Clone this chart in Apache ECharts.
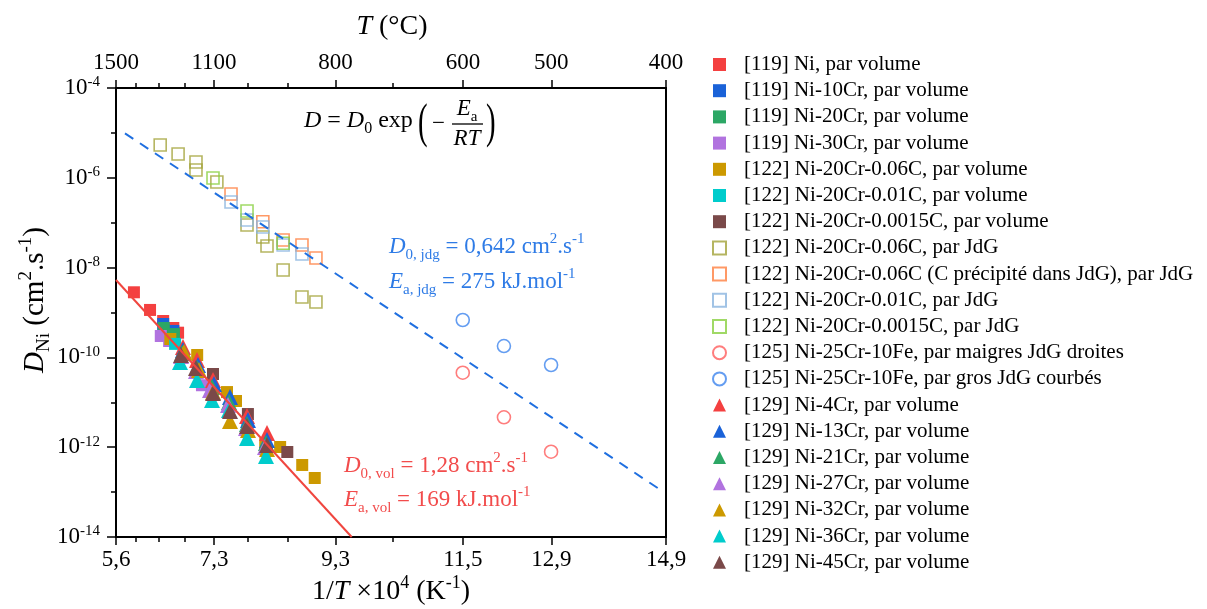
<!DOCTYPE html>
<html><head><meta charset="utf-8">
<script src="https://cdn.jsdelivr.net/npm/echarts@6/dist/echarts.min.js"></script>
<style>html,body{margin:0;padding:0;background:#fff}#c{width:1207px;height:609px}</style>
</head><body><div id="c"></div>
<script>
// ---- tick definitions ----
const tempMajorC = [1500, 1100, 800, 600, 500, 400];
const tempMinorC = [1400, 1300, 1200, 1000, 900, 700];
const invTLabels = ['5,6', '7,3', '9,3', '11,5', '12,9', '14,9'];
const yMin = 1e-14, yMax = 1e-4;

// ---- series names ----
const seriesNames = [
  '[119] Ni, par volume',
  '[119] Ni-10Cr, par volume',
  '[119] Ni-20Cr, par volume',
  '[119] Ni-30Cr, par volume',
  '[122] Ni-20Cr-0.06C, par volume',
  '[122] Ni-20Cr-0.01C, par volume',
  '[122] Ni-20Cr-0.0015C, par volume',
  '[122] Ni-20Cr-0.06C, par JdG',
  '[122] Ni-20Cr-0.06C (C précipité dans JdG), par JdG',
  '[122] Ni-20Cr-0.01C, par JdG',
  '[122] Ni-20Cr-0.0015C, par JdG',
  '[125] Ni-25Cr-10Fe, par maigres JdG droites',
  '[125] Ni-25Cr-10Fe, par gros JdG courbés',
  '[129] Ni-4Cr, par volume',
  '[129] Ni-13Cr, par volume',
  '[129] Ni-21Cr, par volume',
  '[129] Ni-27Cr, par volume',
  '[129] Ni-32Cr, par volume',
  '[129] Ni-36Cr, par volume',
  '[129] Ni-45Cr, par volume'
];

// ---- data: [1/T x 1e4 (K^-1), D (cm^2/s)] ----
const ni119 = [[5.94, 2.82e-9], [6.21, 1.14e-9], [6.43, 6.47e-10], [6.60, 4.52e-10], [6.68, 3.55e-10]];
const ni10cr119 = [[6.43, 5.55e-10], [6.60, 3.89e-10]];
const ni20cr119 = [[6.44, 4.52e-10], [6.61, 3.31e-10]];
const ni30cr119 = [[6.39, 3.0e-10], [6.53, 2.32e-10], [7.08, 2.4e-11]];
const c006vol122 = [[6.55, 2.57e-10], [7.00, 1.13e-10], [7.50, 1.69e-11], [7.65, 1.07e-11], [8.14, 1.17e-12], [8.39, 1.01e-12], [8.76, 4.02e-13], [8.97, 2.06e-13]];
const c001vol122 = [[6.63, 2.0e-10], [7.26, 1.9e-11], [7.84, 2.8e-12]];
const c0015vol122 = [[7.265, 4.27e-11], [7.85, 5.48e-12], [8.51, 7.82e-13]];
const c006jdg122 = [[6.38, 5.38e-6], [6.68, 3.39e-6], [6.98, 2.25e-6], [6.98, 1.49e-6], [7.33, 8.05e-7], [7.835, 8.89e-8], [8.10, 4.81e-8], [8.17, 3.03e-8], [8.44, 8.85e-9], [8.756, 2.21e-9], [8.99, 1.71e-9]];
const c006precJdg122 = [[7.567, 4.36e-7], [8.10, 1.05e-7], [8.44, 4.12e-8], [8.756, 3.18e-8], [8.99, 1.64e-8]];
const c001jdg122 = [[7.567, 2.89e-7], [7.835, 1.15e-7], [8.10, 8.02e-8], [8.44, 3.18e-8], [8.756, 2.01e-8]];
const c0015jdg122 = [[7.265, 9.91e-7], [7.835, 1.82e-7], [8.44, 3.48e-8]];
const fe125Thin = [[11.45, 4.56e-11], [12.14, 4.63e-12], [12.93, 7.94e-13]];
const fe125Thick = [[11.45, 6.81e-10], [12.14, 1.79e-10], [12.93, 6.78e-11]];
const ni4cr129 = [[6.762, 1.71e-10], [6.997, 8.75e-11], [7.265, 3.14e-11], [7.835, 4.95e-12], [8.17, 2.07e-12]];
const ni13cr129 = [[6.762, 1.46e-10], [7.014, 6.78e-11], [7.282, 2.56e-11], [7.55, 1.31e-11], [7.851, 4.04e-12], [8.17, 1.45e-12]];
const ni21cr129 = [[6.746, 1.25e-10], [6.997, 5.81e-11], [7.248, 2.19e-11], [7.533, 1.02e-11], [7.835, 3.29e-12], [8.153, 1.24e-12]];
const ni27cr129 = [[6.729, 1.07e-10], [6.98, 4.98e-11], [7.215, 1.88e-11], [7.516, 8.71e-12], [7.818, 2.68e-12], [8.136, 1.01e-12]];
const ni32cr129 = [[6.779, 1.32e-10], [7.03, 5.24e-11], [7.265, 1.69e-11], [7.55, 3.84e-12], [7.851, 2.42e-12], [8.17, 9.12e-13]];
const ni36cr129 = [[6.712, 7.91e-11], [6.997, 3.14e-11], [7.248, 1.12e-11], [7.533, 6.75e-12], [7.835, 1.60e-12], [8.153, 6.37e-13]];
const ni45cr129 = [[6.729, 1.13e-10], [6.98, 5.81e-11], [7.265, 1.61e-11], [7.55, 6.40e-12], [7.835, 2.96e-12], [8.17, 1.12e-12]];

// ---- fitted lines (end points) ----
const volFitLine = [[5.6397, 5.3e-9], [9.589, 1e-14]];
const jdgFitLine = [[5.79, 9.8e-6], [14.75, 1.15e-13]];

// ---- chart ----
const FONT = 'Liberation Serif';
const xOf = c => 1e4 / (c + 273.15);
const majorX = tempMajorC.map(xOf);
const minorX = tempMinorC.map(xOf);
const xMin = majorX[0], xMax = majorX[majorX.length - 1];
function nearestIdx(v) { let b = 0; majorX.forEach((m, i) => { if (Math.abs(m - v) < Math.abs(majorX[b] - v)) b = i; }); return b; }

const dataSets = [ni119, ni10cr119, ni20cr119, ni30cr119, c006vol122, c001vol122, c0015vol122,
  c006jdg122, c006precJdg122, c001jdg122, c0015jdg122, fe125Thin, fe125Thick,
  ni4cr129, ni13cr129, ni21cr129, ni27cr129, ni32cr129, ni36cr129, ni45cr129];
const styles = [
  ['rect', '#f44040', true], ['rect', '#1a62d8', true], ['rect', '#2ca765', true], ['rect', '#b173df', true],
  ['rect', '#cc9900', true], ['rect', '#00cccc', true], ['rect', '#7a4949', true],
  ['rect', '#a3a33a', false], ['rect', '#ff8040', false], ['rect', '#8ab4df', false], ['rect', '#88d040', false],
  ['circle', '#ff5c5c', false], ['circle', '#3d85ee', false],
  ['triangle', '#f44040', true], ['triangle', '#1a62d8', true], ['triangle', '#2ca765', true], ['triangle', '#b173df', true],
  ['triangle', '#cc9900', true], ['triangle', '#00cccc', true], ['triangle', '#7a4949', true]
];

const series = seriesNames.map((name, i) => {
  const [sym, col, filled] = styles[i];
  const size = sym === 'triangle' ? 16 : (sym === 'circle' ? 13 : 12);
  return {
    name, type: 'scatter', xAxisIndex: 0, yAxisIndex: 0,
    data: dataSets[i], symbol: sym, symbolSize: size,
    itemStyle: filled ? { color: col, opacity: 1 } : { color: 'rgba(255,255,255,0)', borderColor: col, borderWidth: 1.6 },
    emphasis: { disabled: true }, z: 2 + i * 0.01
  };
});
series.push({ type: 'line', data: volFitLine, xAxisIndex: 0, yAxisIndex: 0, symbol: 'none', silent: true,
  lineStyle: { color: '#f0463f', width: 2 }, z: 5 });
series.push({ type: 'line', data: jdgFitLine, xAxisIndex: 0, yAxisIndex: 0, symbol: 'none', silent: true,
  lineStyle: { color: '#1f6fe0', width: 2, type: [10, 8] }, z: 5 });

const tickLine = { color: '#000', width: 1.5 };
const xBase = { type: 'value', min: xMin, max: xMax, splitLine: { show: false }, axisLine: { show: false } };
const lblStyle = { fontFamily: FONT, fontSize: 23, color: '#000' };

const txtRich = (sz) => ({
  i: { fontStyle: 'italic', fontFamily: FONT, fontSize: sz, lineHeight: sz + 8 },
  sub: { fontFamily: FONT, fontSize: Math.round(sz * 0.65), verticalAlign: 'bottom', lineHeight: Math.round(sz * 0.65) },
  sup: { fontFamily: FONT, fontSize: Math.round(sz * 0.65), verticalAlign: 'top', lineHeight: Math.round(sz * 0.65) }
});
function T(x, y, text, sz, color, extra) {
  return Object.assign({ type: 'text', x, y, style: { text, fill: color, fontFamily: FONT, fontSize: sz, lineHeight: sz + 8,
    align: 'left', verticalAlign: 'middle', rich: txtRich(sz) } }, extra || {});
}
function TC(x, y, text, sz, color, extra) {
  const e = T(x, y, text, sz, color, extra); e.style.align = 'center'; return e;
}

const option = {
  backgroundColor: '#fff',
  animation: false,
  grid: { left: 116, top: 88, width: 550, height: 449, show: true, borderColor: '#000', borderWidth: 2, backgroundColor: 'transparent' },
  xAxis: [
    Object.assign({}, xBase, { position: 'bottom',
      axisTick: { customValues: majorX, length: 8, lineStyle: tickLine },
      axisLabel: { customValues: majorX, margin: 11, formatter: v => invTLabels[nearestIdx(v)], ...lblStyle } }),
    Object.assign({}, xBase, { position: 'bottom',
      axisTick: { customValues: minorX, length: 5, lineStyle: tickLine }, axisLabel: { show: false } }),
    Object.assign({}, xBase, { position: 'top',
      axisTick: { customValues: majorX, length: 8, lineStyle: tickLine },
      axisLabel: { customValues: majorX, margin: 14, formatter: v => String(tempMajorC[nearestIdx(v)]), ...lblStyle } }),
    Object.assign({}, xBase, { position: 'top',
      axisTick: { customValues: minorX, length: 5, lineStyle: tickLine }, axisLabel: { show: false } })
  ],
  yAxis: [
    { type: 'log', logBase: 10, min: yMin, max: yMax, interval: 2, position: 'left',
      splitLine: { show: false }, axisLine: { show: false },
      axisTick: { length: 9, lineStyle: tickLine },
      axisLabel: { margin: 16, formatter: v => '{b|10}{s|' + Math.round(Math.log10(v)) + '}',
        rich: { b: { fontFamily: FONT, fontSize: 23, color: '#000', lineHeight: 26 },
                s: { fontFamily: FONT, fontSize: 15, color: '#000', verticalAlign: 'top', lineHeight: 15 } } } },
    { type: 'log', logBase: 10, min: yMin, max: yMax, interval: 1, position: 'left',
      splitLine: { show: false }, axisLine: { show: false },
      axisTick: { length: 5, lineStyle: tickLine }, axisLabel: { show: false } }
  ],
  legend: {
    data: seriesNames, orient: 'vertical', left: 707, top: 49,
    itemWidth: 13, itemHeight: 13, itemGap: 5.2, selectedMode: false,
    textStyle: { fontFamily: FONT, fontSize: 21, color: '#000', padding: [0, 0, 0, 13] }
  },
  graphic: [
    // axis titles
    TC(392, 27, '{i|T} (°C)', 28, '#000'),
    TC(391, 592, '1/{i|T} ×10{sup|4} (K{sup|-1})', 28, '#000'),
    TC(35, 300, '{i|D}{sub|Ni} (cm{sup|2}.s{sup|-1})', 29, '#000', { rotation: Math.PI / 2 }),
    // formula
    T(304, 121, '{i|D} = {i|D}{sub|0} exp', 24, '#000'),
    T(418, 124, '(', 48, '#000', { scaleX: 0.6 }),
    T(432, 124, '−', 23, '#000'),
    TC(467, 109, '{i|E}{sub|a}', 23, '#000'),
    { type: 'line', shape: { x1: 452, y1: 124, x2: 483, y2: 124 }, style: { stroke: '#000', lineWidth: 1.3 } },
    TC(467, 139, '{i|RT}', 23, '#000'),
    T(486, 124, ')', 48, '#000', { scaleX: 0.6 }),
    // annotations
    T(389, 247, '{i|D}{sub|0, jdg} = 0,642 cm{sup|2}.s{sup|-1}', 23, '#2e7be6'),
    T(389, 282, '{i|E}{sub|a, jdg} = 275 kJ.mol{sup|-1}', 23, '#2e7be6'),
    T(344, 466, '{i|D}{sub|0, vol} = 1,28 cm{sup|2}.s{sup|-1}', 23, '#f24c4c'),
    T(344, 500, '{i|E}{sub|a, vol} = 169 kJ.mol{sup|-1}', 23, '#f24c4c')
  ],
  series
};
const chart = echarts.init(document.getElementById('c'), null, { renderer: 'canvas' });
chart.setOption(option);
</script></body></html>
